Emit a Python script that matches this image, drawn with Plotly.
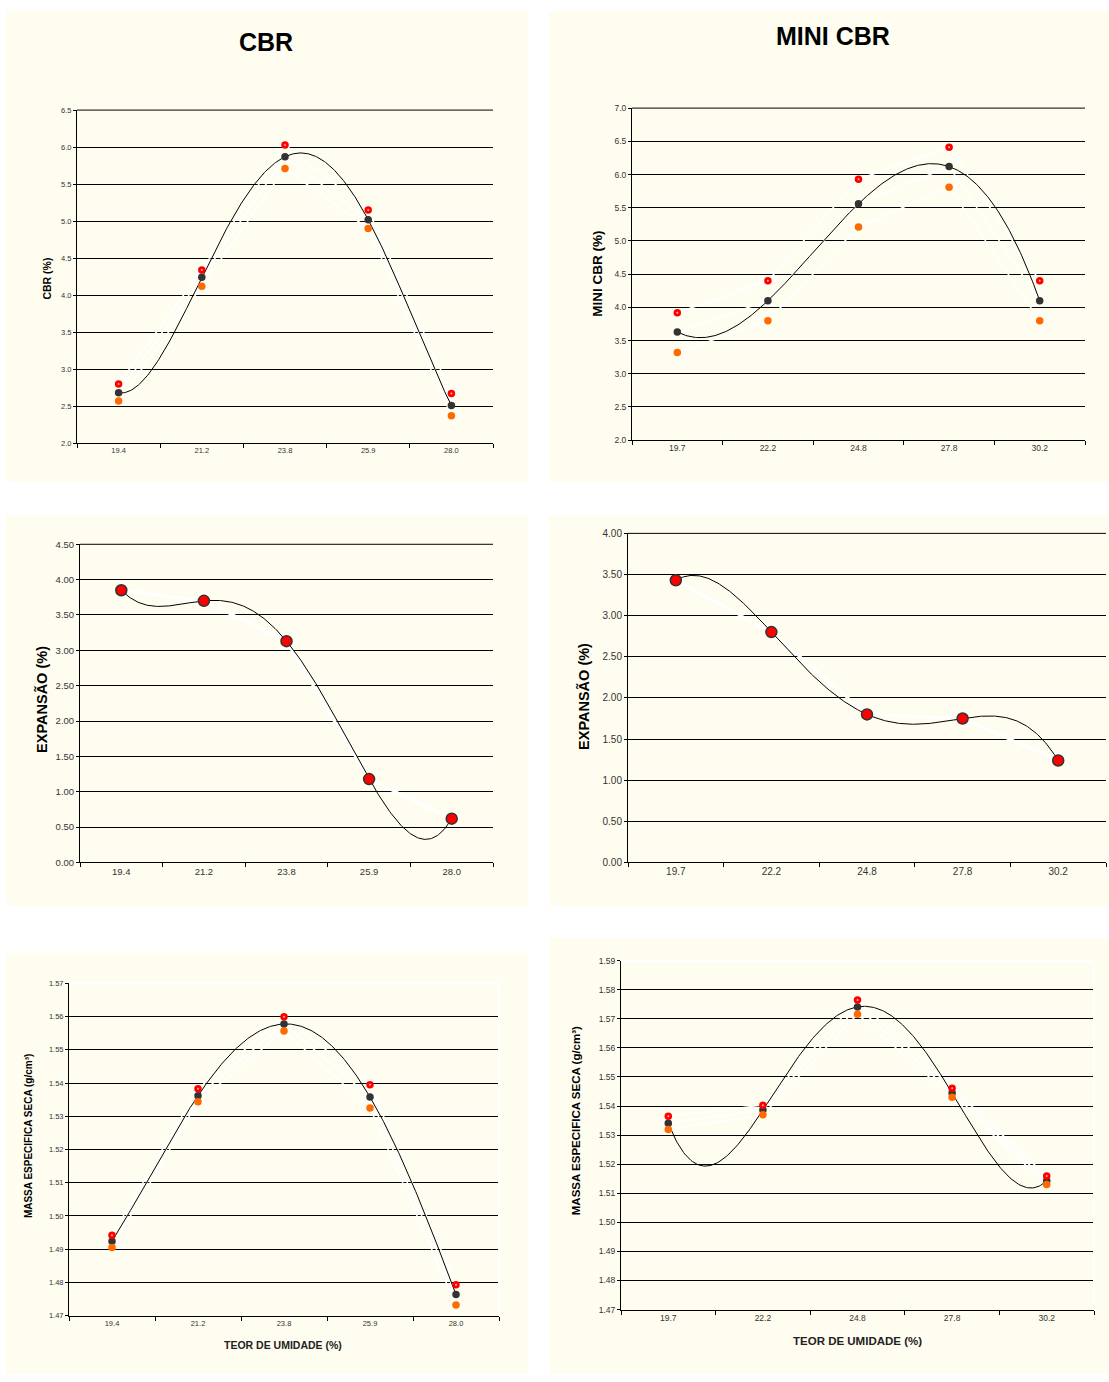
import numpy as np
import plotly.graph_objects as go

W, H = 1109, 1382

# ---------------- data ----------------
cbr_x = ["19.4", "21.2", "23.8", "25.9", "28.0"]
mini_x = ["19.7", "22.2", "24.8", "27.8", "30.2"]

cbr_red = [2.80, 4.34, 6.03, 5.15, 2.67]
cbr_mean = [2.68, 4.24, 5.87, 5.02, 2.51]
cbr_orange = [2.57, 4.12, 5.71, 4.90, 2.37]

mini_red = [3.92, 4.40, 5.93, 6.41, 4.40]
mini_mean = [3.63, 4.10, 5.56, 6.12, 4.10]
mini_orange = [3.32, 3.80, 5.21, 5.81, 3.80]

exp_cbr = [3.85, 3.70, 3.13, 1.18, 0.62]
exp_mini = [3.43, 2.80, 1.80, 1.75, 1.24]

mes_cbr_red = [1.4942, 1.5383, 1.5600, 1.5395, 1.4793]
mes_cbr_mean = [1.4924, 1.5362, 1.5578, 1.5358, 1.4763]
mes_cbr_orange = [1.4905, 1.5344, 1.5557, 1.5325, 1.4732]

mes_mini_red = [1.5365, 1.5403, 1.5765, 1.5461, 1.5159]
mes_mini_mean = [1.5341, 1.5386, 1.5741, 1.5445, 1.5143]
mes_mini_orange = [1.5319, 1.5370, 1.5716, 1.5430, 1.5130]

CREAM = "#FFFDF0"
FONT = "Arial, Liberation Sans, sans-serif"


def fx(px):
    return px / W


def fy(py):
    return 1 - py / H


# panel definitions (pixel geometry)
panels = [
    dict(bg=(6, 5, 528, 480), plot=(77, 105, 493, 441), xlab=cbr_x,
         yr=(2.0, 6.5), dt=0.5, fmt=".1f", tfs=7.5, xtfs=7.5,
         series=[cbr_mean, cbr_orange, cbr_red], kind="tri",
         ytitle="CBR (%)", ytpos=(47, 275), ytfs=10.5, msize=7.5, wline=1.5),
    dict(bg=(549, 5, 1109, 480), plot=(632, 103, 1085, 438), xlab=mini_x,
         yr=(2.0, 7.0), dt=0.5, fmt=".1f", tfs=8.5, xtfs=8.5,
         series=[mini_mean, mini_orange, mini_red], kind="tri",
         ytitle="MINI CBR (%)", ytpos=(598, 270), ytfs=13.5, msize=7.5, wline=1.5),
    dict(bg=(6, 514, 528, 908), plot=(80, 543, 493, 864), xlab=cbr_x,
         yr=(0.0, 4.5), dt=0.5, fmt=".2f", tfs=9.5, xtfs=9.5,
         series=[exp_cbr], kind="single",
         ytitle="EXPANSÃO (%)", ytpos=(42, 700), ytfs=14.5, msize=11, wline=3),
    dict(bg=(549, 514, 1109, 908), plot=(628, 532, 1106, 864), xlab=mini_x,
         yr=(0.0, 4.0), dt=0.5, fmt=".2f", tfs=10, xtfs=10,
         series=[exp_mini], kind="single",
         ytitle="EXPANSÃO (%)", ytpos=(584, 697), ytfs=14.5, msize=11, wline=3),
    dict(bg=(6, 955, 528, 1380), plot=(69, 986, 499, 1321), xlab=cbr_x,
         yr=(1.47, 1.57), dt=0.01, fmt=".2f", tfs=7.5, xtfs=7.5,
         series=[mes_cbr_mean, mes_cbr_orange, mes_cbr_red], kind="tri",
         ytitle="MASSA ESPECIFICA SECA (g/cm³)", ytpos=(28, 1140), ytfs=10,
         xtitle="TEOR DE UMIDADE (%)", xtpos=(283, 1351), xtitfs=10.5,
         msize=7.5, wline=1.5, whiteframe=True),
    dict(bg=(549, 940, 1109, 1380), plot=(621, 963, 1094, 1315), xlab=mini_x,
         yr=(1.47, 1.59), dt=0.01, fmt=".2f", tfs=8.5, xtfs=8.5,
         series=[mes_mini_mean, mes_mini_orange, mes_mini_red], kind="tri",
         ytitle="MASSA ESPECIFICA SECA (g/cm³)", ytpos=(576, 1125), ytfs=11.5,
         xtitle="TEOR DE UMIDADE (%)", xtpos=(858, 1347), xtitfs=11.5,
         msize=7.5, wline=1.5, whiteframe=True),
]

fig = go.Figure()
shapes = []
annotations = []
pos = [1, 2, 3, 4, 5]

for i, p in enumerate(panels):
    suf = "" if i == 0 else str(i + 1)
    xa, ya = "x" + suf, "y" + suf
    x0, y0, x1, y1 = p["bg"]
    shapes.append(dict(type="rect", xref="paper", yref="paper",
                       x0=fx(x0), x1=fx(x1), y0=fy(y1), y1=fy(y0),
                       fillcolor=CREAM, line=dict(width=0), layer="below"))
    px0, py0, px1, py1 = p["plot"]

    mean = p["series"][0]
    # white connecting lines
    for s in p["series"]:
        fig.add_trace(go.Scatter(x=pos, y=s, mode="lines", xaxis=xa, yaxis=ya,
                                 line=dict(color="white", width=p["wline"]),
                                 hoverinfo="skip", showlegend=False))
    # polynomial trendline (degree 4) of the mean series
    coefs = np.polyfit(pos, mean, 4)
    xs = np.linspace(1, 5, 300)
    ys = np.polyval(coefs, xs)
    fig.add_trace(go.Scatter(x=xs, y=ys, mode="lines", xaxis=xa, yaxis=ya,
                             line=dict(color="black", width=1),
                             hoverinfo="skip", showlegend=False))
    ms = p["msize"]
    if p["kind"] == "tri":
        m_black, m_orange, m_red = p["series"]
        fig.add_trace(go.Scatter(x=pos, y=m_black, mode="markers", xaxis=xa, yaxis=ya,
                                 marker=dict(color="#333333", size=ms, line=dict(width=0)),
                                 showlegend=False))
        fig.add_trace(go.Scatter(x=pos, y=m_orange, mode="markers", xaxis=xa, yaxis=ya,
                                 marker=dict(color="#FF6A00", size=ms, line=dict(width=0)),
                                 showlegend=False))
        fig.add_trace(go.Scatter(x=pos, y=m_red, mode="markers", xaxis=xa, yaxis=ya,
                                 marker=dict(color="#FF0000", size=ms, line=dict(width=0)),
                                 showlegend=False))
        fig.add_trace(go.Scatter(x=pos, y=m_red, mode="markers", xaxis=xa, yaxis=ya,
                                 marker=dict(color="#FFB0A0", size=2, line=dict(width=0)),
                                 hoverinfo="skip", showlegend=False))
    else:
        fig.add_trace(go.Scatter(x=pos, y=mean, mode="markers", xaxis=xa, yaxis=ya,
                                 marker=dict(color="#FF0000", size=ms,
                                             line=dict(color="#333333", width=1.5)),
                                 showlegend=False))

    nt = int(round((p["yr"][1] - p["yr"][0]) / p["dt"]))
    yt = [round(p["yr"][0] + k * p["dt"], 4) for k in range(nt + 1)]
    fig.update_layout(**{
        "xaxis" + suf: dict(domain=[fx(px0), fx(px1)], anchor=ya, range=[0.5, 5.5],
                            tickmode="array", tickvals=pos, ticktext=p["xlab"],
                            ticks="", showgrid=False, zeroline=False,
                            showline=True, linecolor="black", linewidth=1,
                            tickfont=dict(family=FONT, size=p["xtfs"], color="#333333"),
                            minor=dict(tickmode="array",
                                       tickvals=[0.5, 1.5, 2.5, 3.5, 4.5, 5.5],
                                       ticks="outside", ticklen=4, tickcolor="black",
                                       showgrid=False),
                            fixedrange=True),
        "yaxis" + suf: dict(domain=[fy(py1), fy(py0)], anchor=xa,
                            range=[p["yr"][0], p["yr"][1]],
                            tickmode="array", tickvals=yt,
                            tickformat=p["fmt"], ticks="outside", ticklen=3,
                            tickcolor="black", showgrid=True, gridcolor="black",
                            gridwidth=1, zeroline=False, showline=True,
                            linecolor="black", linewidth=1,
                            tickfont=dict(family=FONT, size=p["tfs"], color="#333333"),
                            fixedrange=True),
    })

    annotations.append(dict(text="<b>%s</b>" % p["ytitle"], xref="paper", yref="paper",
                            x=fx(p["ytpos"][0]), y=fy(p["ytpos"][1]), showarrow=False,
                            textangle=-90, xanchor="center", yanchor="middle",
                            font=dict(family=FONT, size=p["ytfs"], color="black")))
    if "xtitle" in p:
        annotations.append(dict(text="<b>%s</b>" % p["xtitle"], xref="paper", yref="paper",
                                x=fx(p["xtpos"][0]), y=fy(p["xtpos"][1]), showarrow=False,
                                xanchor="center", yanchor="middle",
                                font=dict(family=FONT, size=p["xtitfs"], color="#222222")))
    if p.get("whiteframe"):
        shapes.append(dict(type="line", xref="paper", yref="paper",
                           x0=fx(px0 + 1), x1=fx(px1), y0=fy(py0), y1=fy(py0),
                           line=dict(color="white", width=2), layer="above"))
        shapes.append(dict(type="line", xref="paper", yref="paper",
                           x0=fx(px1), x1=fx(px1), y0=fy(py0), y1=fy(py1 - 1),
                           line=dict(color="white", width=2), layer="above"))
    else:
        # top gridline at the upper end of the value axis
        shapes.append(dict(type="line", xref="paper", yref="paper",
                           x0=fx(px0), x1=fx(px1), y0=fy(py0), y1=fy(py0),
                           line=dict(color="black", width=1), layer="below"))

annotations.append(dict(text="<b>CBR</b>", xref="paper", yref="paper",
                        x=fx(266), y=fy(36), showarrow=False, xanchor="center",
                        yanchor="middle", font=dict(family=FONT, size=25, color="black")))
annotations.append(dict(text="<b>MINI CBR</b>", xref="paper", yref="paper",
                        x=fx(833), y=fy(30), showarrow=False, xanchor="center",
                        yanchor="middle", font=dict(family=FONT, size=25, color="black")))

fig.update_layout(width=W, height=H, margin=dict(l=0, r=0, t=0, b=0),
                  paper_bgcolor="white", plot_bgcolor="rgba(0,0,0,0)",
                  showlegend=False, shapes=shapes, annotations=annotations)

fig.write_html("out.html", config={"displayModeBar": False},
               post_script="document.body.style.margin='0';"
                           "document.body.style.overflow='hidden';")
